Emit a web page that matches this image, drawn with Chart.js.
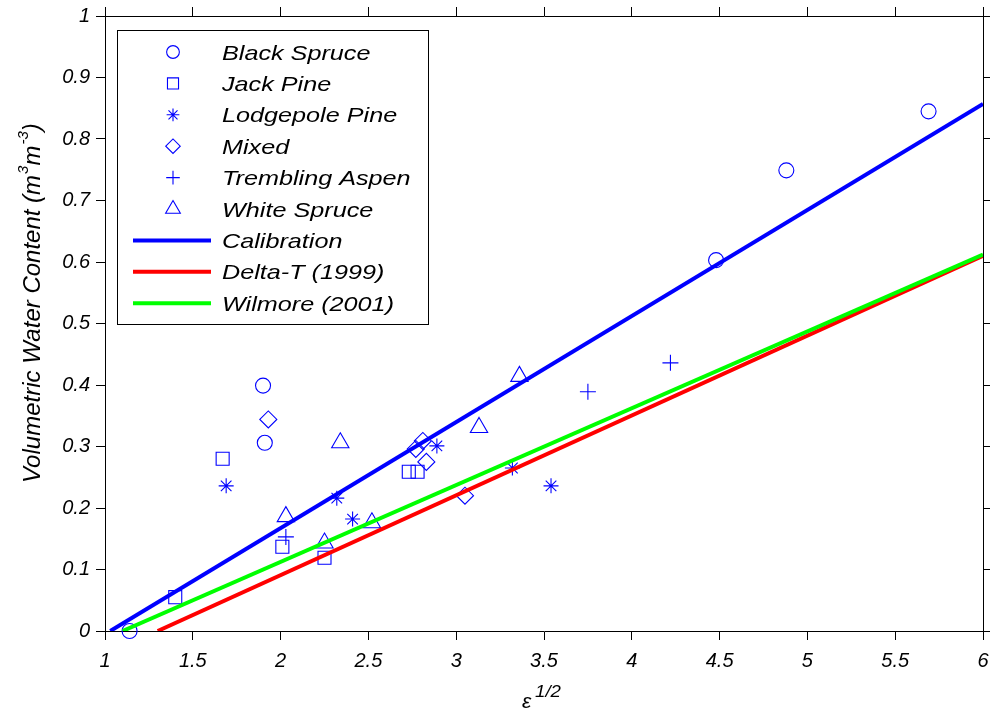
<!DOCTYPE html>
<html>
<head>
<meta charset="utf-8">
<script src="https://cdn.jsdelivr.net/npm/chart.js@4"></script>
<style>
    html, body { margin: 0; padding: 0; background: #fff; }
    #wrap { width: 990px; height: 711px; }
</style>
</head>
<body>
<div id="wrap"><canvas id="vwcChart" width="990" height="711"></canvas></div>
<script>
// measured points, sqrt(permittivity) vs volumetric water content
const blackSpruceX = [1.14, 1.90, 1.91, 4.48, 4.88, 5.69];
const blackSpruceY = [0.000, 0.399, 0.306, 0.603, 0.749, 0.845];
const jackPineX = [1.40, 1.67, 2.01, 2.25, 2.73, 2.78];
const jackPineY = [0.055, 0.280, 0.137, 0.119, 0.259, 0.259];
const lodgepoleX = [1.69, 2.32, 2.41, 2.89, 3.32, 3.54];
const lodgepoleY = [0.236, 0.216, 0.182, 0.301, 0.265, 0.236];
const mixedX = [1.93, 2.77, 2.81, 2.83, 3.05];
const mixedY = [0.344, 0.296, 0.309, 0.275, 0.220];
const aspenX = [2.03, 3.75, 4.22];
const aspenY = [0.153, 0.389, 0.436];
const whiteSpruceX = [2.03, 2.25, 2.34, 2.52, 3.13, 3.36];
const whiteSpruceY = [0.186, 0.143, 0.306, 0.176, 0.331, 0.414];

// calibration curves (end points)
const calibrationX = [1.03, 6];
const calibrationY = [0, 0.857];
const deltaTX = [1.3, 6];
const deltaTY = [0, 0.61];
const wilmoreX = [1.1, 6];
const wilmoreY = [0, 0.612];

const xTicks = [1, 1.5, 2, 2.5, 3, 3.5, 4, 4.5, 5, 5.5, 6];
const yTicks = [0, 0.1, 0.2, 0.3, 0.4, 0.5, 0.6, 0.7, 0.8, 0.9, 1];

const FONT = 'Arial, "Liberation Sans", sans-serif';
const BLUE = '#0000ff';

const pts = (xs, ys) => xs.map((x, i) => ({ x: x, y: ys[i] }));

function markerSet(label, xs, ys, style, radius) {
    return {
        label: label,
        data: pts(xs, ys),
        pointStyle: style,
        pointRadius: radius,
        pointBorderColor: BLUE,
        pointBackgroundColor: 'rgba(0,0,0,0)',
        pointBorderWidth: 1.1,
        showLine: false,
        order: 1,
        clip: false
    };
}

function lineSet(label, xs, ys, color, order) {
    return {
        label: label,
        data: pts(xs, ys),
        showLine: true,
        borderColor: color,
        borderWidth: 4,
        pointRadius: 0,
        order: order
    };
}

const datasets = [
    markerSet('Black Spruce', blackSpruceX, blackSpruceY, 'circle', 7.5),
    markerSet('Jack Pine', jackPineX, jackPineY, 'rect', 9.2),
    markerSet('Lodgepole Pine', lodgepoleX, lodgepoleY, 'star', 7.5),
    markerSet('Mixed', mixedX, mixedY, 'rectRot', 8.5),
    markerSet('Trembling Aspen', aspenX, aspenY, 'cross', 8),
    markerSet('White Spruce', whiteSpruceX, whiteSpruceY, 'triangle', 10),
    lineSet('Calibration', calibrationX, calibrationY, '#0000ff', -2),
    lineSet('Delta-T (1999)', deltaTX, deltaTY, '#ff0000', 0),
    lineSet('Wilmore (2001)', wilmoreX, wilmoreY, '#00ff00', -1)
];

// italic text with optional horizontal stretch
function wideText(ctx, text, x, y, size, stretch) {
    ctx.save();
    ctx.font = 'italic ' + size + 'px ' + FONT;
    const w = ctx.measureText(text).width * stretch;
    ctx.translate(x, y);
    ctx.scale(stretch, 1);
    ctx.textAlign = 'left';
    ctx.fillText(text, 0, 0);
    ctx.restore();
    return w;
}

const decorations = {
    id: 'decorations',
    afterDraw(chart) {
        const ctx = chart.ctx;
        ctx.save();
        ctx.textBaseline = 'alphabetic';

        // legend box
        const box = { l: 117, t: 30, r: 428, b: 324 };
        ctx.fillStyle = '#fff';
        ctx.fillRect(box.l, box.t, box.r - box.l, box.b - box.t);
        ctx.strokeStyle = '#000';
        ctx.lineWidth = 1;
        ctx.strokeRect(box.l + 0.5, box.t + 0.5, box.r - box.l, box.b - box.t);

        const rowY = 52, rowStep = 31.4;
        chart.data.datasets.forEach((ds, i) => {
            const cy = rowY + i * rowStep;
            if (ds.showLine) {
                ctx.strokeStyle = ds.borderColor;
                ctx.lineWidth = 4;
                ctx.beginPath();
                ctx.moveTo(133, cy);
                ctx.lineTo(211, cy);
                ctx.stroke();
            } else {
                ctx.strokeStyle = BLUE;
                ctx.fillStyle = 'rgba(0,0,0,0)';
                ctx.lineWidth = 1.1;
                Chart.helpers.drawPoint(ctx, {
                    pointStyle: ds.pointStyle,
                    radius: ds.pointRadius * 0.85,
                    rotation: 0,
                    borderWidth: 1.1
                }, 173, cy);
            }
            ctx.fillStyle = '#000';
            wideText(ctx, ds.label, 222, cy + 7.5, 21, 1.2);
        });

        // y axis title with superscripts
        ctx.save();
        ctx.translate(40, 483);
        ctx.rotate(-Math.PI / 2);
        ctx.fillStyle = '#000';
        let x = 0;
        x += wideText(ctx, 'Volumetric Water Content (m', x, 0, 24, 1);
        x += wideText(ctx, '3', x + 1, -12, 15, 1) + 1;
        x += wideText(ctx, 'm', x, 0, 24, 1);
        x += wideText(ctx, '-3', x + 1, -12, 15, 1) + 1;
        wideText(ctx, ')', x, 0, 24, 1);
        ctx.restore();

        // x axis title: epsilon^(1/2)
        ctx.fillStyle = '#000';
        wideText(ctx, '\u03b5', 522, 708, 20, 1.05);
        wideText(ctx, '1/2', 535, 697, 17, 1.1);

        ctx.restore();
    }
};

const tickFont = { family: FONT, size: 20, style: 'italic' };

function axisBase(min, max, values) {
    return {
        type: 'linear',
        min: min,
        max: max,
        afterBuildTicks: (scale) => { scale.ticks = values.map(v => ({ value: v })); },
        grid: {
            drawOnChartArea: false,
            drawTicks: true,
            tickLength: 9,
            color: '#000',
            lineWidth: 1
        },
        border: { display: true, color: '#000', width: 1 },
        ticks: {
            color: '#000',
            font: tickFont,
            autoSkip: false,
            maxRotation: 0,
            padding: 6,
            callback: (v) => String(+Number(v).toFixed(1))
        }
    };
}

// fixed box sizes so the plot frame sits where the axes were drawn
function fixBox(size, dim) {
    return (s) => {
        s[dim] = size;
        s.paddingLeft = 0;
        s.paddingRight = 0;
        s.paddingTop = 0;
        s.paddingBottom = 0;
    };
}

const xAxis = axisBase(1, 6, xTicks);
xAxis.position = 'bottom';
xAxis.ticks.padding = 9;
xAxis.afterFit = fixBox(80, 'height');

const yAxis = axisBase(0, 1, yTicks);
yAxis.position = 'left';
yAxis.afterFit = fixBox(105, 'width');

const xTop = axisBase(1, 6, xTicks);
xTop.axis = 'x';
xTop.position = 'top';
xTop.ticks.display = false;
xTop.afterFit = fixBox(16, 'height');

const yRight = axisBase(0, 1, yTicks);
yRight.axis = 'y';
yRight.position = 'right';
yRight.ticks.display = false;
yRight.afterFit = fixBox(7, 'width');

new Chart(document.getElementById('vwcChart').getContext('2d'), {
    type: 'scatter',
    data: { datasets: datasets },
    options: {
        responsive: false,
        animation: false,
        layout: { padding: 0, autoPadding: false },
        plugins: { legend: { display: false }, tooltip: { enabled: false } },
        scales: { x: xAxis, y: yAxis, xTop: xTop, yRight: yRight }
    },
    plugins: [decorations]
});
</script>
</body>
</html>
